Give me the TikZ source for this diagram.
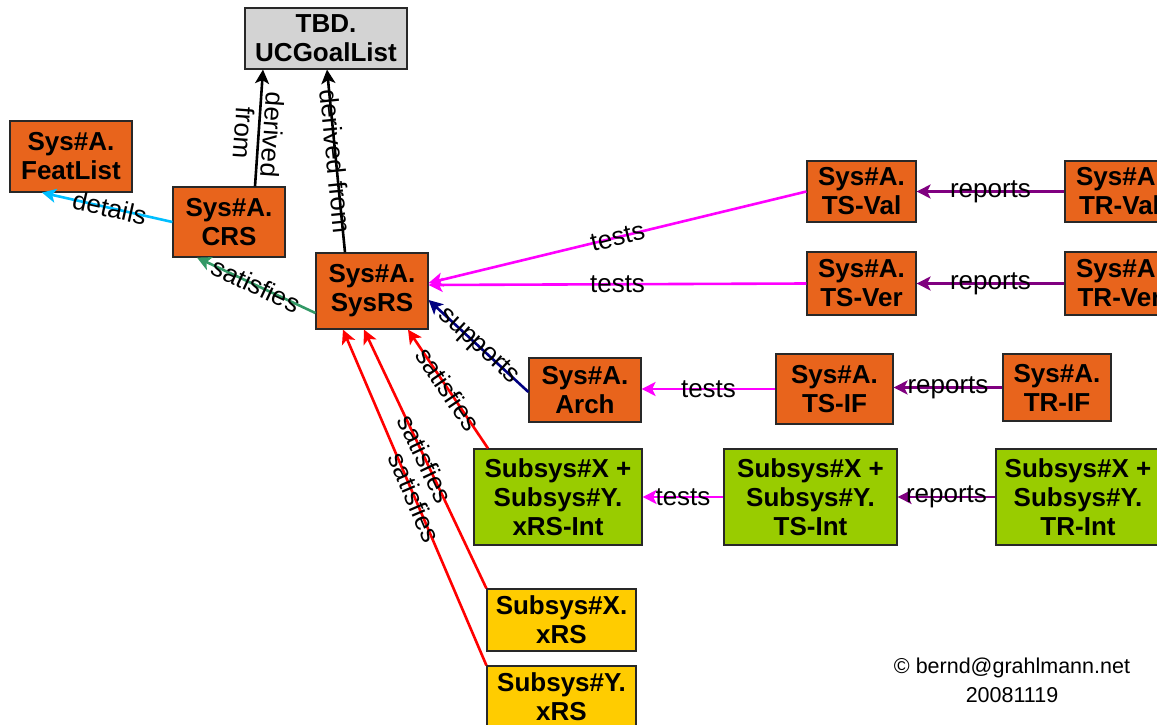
\documentclass[tikz,border=0pt]{standalone}
\usepackage{fontspec}
\setmainfont{Liberation Sans}
\usetikzlibrary{arrows.meta,calc}

\definecolor{boxorange}{RGB}{232,100,28}
\definecolor{boxgreen}{RGB}{153,204,0}
\definecolor{boxyellow}{RGB}{255,204,0}
\definecolor{boxgray}{RGB}{211,211,211}
\definecolor{edgecyan}{RGB}{0,190,255}
\definecolor{edgegreen}{RGB}{51,153,102}
\definecolor{edgemagenta}{RGB}{255,0,255}
\definecolor{edgenavy}{RGB}{0,0,128}
\definecolor{edgepurple}{RGB}{128,0,128}
\definecolor{edgered}{RGB}{255,0,0}
\definecolor{boxline}{RGB}{40,40,40}

\tikzset{
  artifact/.style={draw=boxline, line width=1.2pt, rectangle, inner sep=0pt,
    align=center, font=\fontsize{26}{29}\selectfont\bfseries},
  orangebox/.style={artifact, fill=boxorange},
  greenbox/.style={artifact, fill=boxgreen},
  yellowbox/.style={artifact, fill=boxyellow},
  graybox/.style={artifact, fill=boxgray},
  rel/.style={line width=2.6pt, -{Stealth[length=14pt,width=14pt,inset=3.5pt]}},
  lbltext/.style={text=black, font=\fontsize{26}{29}\selectfont, inner sep=0pt, align=center},
  lbl/.style={lbltext, sloped},
}

\begin{document}
\begin{tikzpicture}[x=1pt,y=-1pt]
\path[use as bounding box] (0,0) rectangle (1157,725);
\clip (0,0) rectangle (1157,725);

% artifacts
\node[graybox, minimum width=162pt, minimum height=61pt] (tbd) at (326,38.5) {TBD.\\UCGoalList};
\node[orangebox, minimum width=122pt, minimum height=71pt] (feat) at (71,156.5) {Sys\#A.\\FeatList};
\node[orangebox, minimum width=112pt, minimum height=70pt] (crs) at (229,222) {Sys\#A.\\CRS};
\node[orangebox, minimum width=112pt, minimum height=76pt] (sysrs) at (372,291) {Sys\#A.\\SysRS};
\node[orangebox, minimum width=109pt, minimum height=61pt] (tsval) at (861.5,191.5) {Sys\#A.\\TS-Val};
\node[orangebox, minimum width=109pt, minimum height=61pt] (trval) at (1119.5,191.5) {Sys\#A.\\TR-Val};
\node[orangebox, minimum width=109pt, minimum height=63pt] (tsver) at (861.5,283.5) {Sys\#A.\\TS-Ver};
\node[orangebox, minimum width=109pt, minimum height=63pt] (trver) at (1119.5,283.5) {Sys\#A.\\TR-Ver};
\node[orangebox, minimum width=112pt, minimum height=64pt] (arch) at (585,390) {Sys\#A.\\Arch};
\node[orangebox, minimum width=117pt, minimum height=70pt] (tsif) at (834.5,389) {Sys\#A.\\TS-IF};
\node[orangebox, minimum width=108pt, minimum height=67pt] (trif) at (1057,387.5) {Sys\#A.\\TR-IF};
\node[greenbox, minimum width=168pt, minimum height=96pt] (xrsint) at (558,497) {Subsys\#X +\\Subsys\#Y.\\xRS-Int};
\node[greenbox, minimum width=173pt, minimum height=96pt] (tsint) at (810.5,497) {Subsys\#X +\\Subsys\#Y.\\TS-Int};
\node[greenbox, minimum width=164pt, minimum height=96pt] (trint) at (1078,497) {Subsys\#X +\\Subsys\#Y.\\TR-Int};
\node[yellowbox, minimum width=149pt, minimum height=62pt] (xxrs) at (561.5,620) {Subsys\#X.\\xRS};
\node[yellowbox, minimum width=149pt, minimum height=62pt] (yxrs) at (561.5,697) {Subsys\#Y.\\xRS};

% derivation and satisfaction relations
\draw[rel, black] ([xshift=26pt]crs.north) -- node[lbltext, rotate=-94, pos=0.45] {derived\\from} ([xshift=-63pt]tbd.south);
\draw[rel, black] ([xshift=-27pt]sysrs.north) -- node[lbl, pos=0.5] {derived from} ([xshift=1pt]tbd.south);
\draw[rel, edgecyan] (crs.west) -- node[lbl, pos=0.48] {details} ([xshift=-29pt]feat.south);
\draw[rel, edgegreen] ([yshift=-22pt]sysrs.west) -- node[lbl, pos=0.5] {satisfies} ([xshift=-32pt]crs.south);
\draw[rel, edgenavy] ([yshift=-2pt]arch.west) -- node[lbl, pos=0.5] {supports} ([yshift=-9pt]sysrs.east);
\draw[rel, edgered] ([xshift=-70pt]xrsint.north) -- node[lbl, pos=0.5] {satisfies} ([xshift=36pt]sysrs.south);
\draw[rel, edgered] (xxrs.north west) -- node[lbl, pos=0.5] {satisfies} ([xshift=-8pt]sysrs.south);
\draw[rel, edgered] (yxrs.north west) -- node[lbl, pos=0.5] {satisfies} ([xshift=-29pt]sysrs.south);

% test relations
\draw[rel, edgemagenta] (tsval.west) -- node[lbl, pos=0.5] {tests} ([yshift=8pt]sysrs.east);
\draw[rel, edgemagenta] (tsver.west) -- node[lbl, pos=0.5] {tests} ([yshift=6pt]sysrs.east);
\draw[rel, edgemagenta] (tsif.west) -- node[lbl, pos=0.5] {tests} (tsif.west -| arch.east);
\draw[rel, edgemagenta] (tsint.west) -- node[lbl, pos=0.5] {tests} (tsint.west -| xrsint.east);

% report relations
\draw[rel, edgepurple] (trval.west) -- node[lbl, pos=0.5] {reports} (trval.west -| tsval.east);
\draw[rel, edgepurple] (trver.west) -- node[lbl, pos=0.5] {reports} (trver.west -| tsver.east);
\draw[rel, edgepurple] (trif.west) -- node[lbl, pos=0.5] {reports} (trif.west -| tsif.east);
\draw[rel, edgepurple] (trint.west) -- node[lbl, pos=0.5] {reports} (trint.west -| tsint.east);

% author note
\node[align=center, font=\fontsize{21.5}{29}\selectfont] (note) at (1012,680) {© bernd@grahlmann.net\\20081119};
\end{tikzpicture}
\end{document}
